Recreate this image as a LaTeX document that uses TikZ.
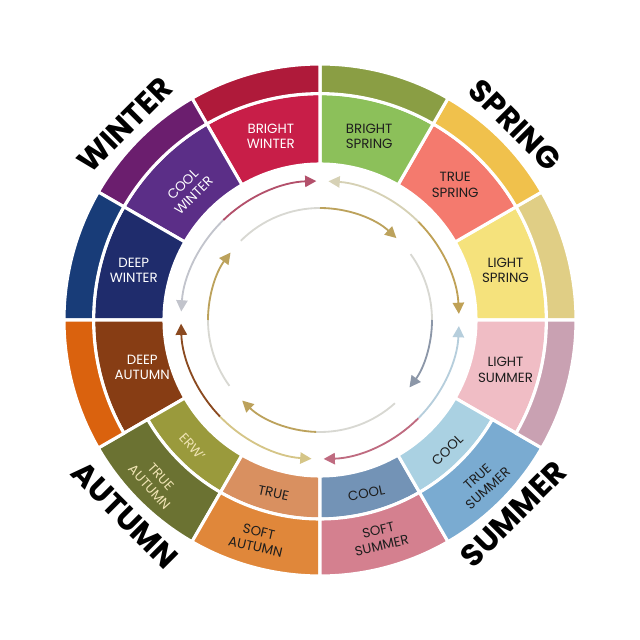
\documentclass[tikz,border=0pt]{standalone}
\usepackage{fontspec}
\setmainfont{Poppins}
\usetikzlibrary{arrows.meta}

% inner band
\definecolor{lspring}{HTML}{F5E27C}
\definecolor{tspring}{HTML}{F47A6E}
\definecolor{bspring}{HTML}{8CC05A}
\definecolor{bwinter}{HTML}{C81E48}
\definecolor{cwinter}{HTML}{5B2E87}
\definecolor{dwinter}{HTML}{1F2C6C}
\definecolor{dautumn}{HTML}{873D14}
\definecolor{lsummer}{HTML}{F0BDC5}
\definecolor{erw}{HTML}{9A9A3C}
\definecolor{trueor}{HTML}{D99060}
\definecolor{cooldk}{HTML}{7393B6}
\definecolor{coollt}{HTML}{AAD1E2}
\definecolor{tautumn}{HTML}{6B7232}
\definecolor{sautumn}{HTML}{E0873A}
\definecolor{ssummer}{HTML}{D4808F}
\definecolor{tsummer}{HTML}{7AABD1}
% outer band
\definecolor{otan}{HTML}{E0CE85}
\definecolor{ogold}{HTML}{F0C14C}
\definecolor{oolive}{HTML}{8A9E44}
\definecolor{ored}{HTML}{AF1A3A}
\definecolor{opurple}{HTML}{6B1E6E}
\definecolor{oblue}{HTML}{183C78}
\definecolor{oorange}{HTML}{DA620E}
\definecolor{omauve}{HTML}{C9A1B2}
% arrows
\definecolor{ared}{HTML}{B3506B}
\definecolor{agray}{HTML}{C2C4CC}
\definecolor{abeige}{HTML}{D6D1B5}
\definecolor{agold}{HTML}{BFA156}
\definecolor{ablue}{HTML}{B6CEDC}
\definecolor{amauve}{HTML}{BF6B80}
\definecolor{abrown}{HTML}{8B4A20}
\definecolor{atan}{HTML}{D5C587}
\definecolor{ilight}{HTML}{D8D8D2}
\definecolor{igold}{HTML}{BCA25C}
\definecolor{islate}{HTML}{8C97A8}
\definecolor{txt}{HTML}{1E1E1E}
\definecolor{cream}{HTML}{F0E4B4}

\begin{document}
\begin{tikzpicture}[>={Triangle[length=8pt, width=8pt]}] %Saisons
	\tikzstyle{part} = [draw=white, line width=2.2pt]
	\tikzstyle{lab} = [align=center, text=txt, inner sep=1pt, font=\fontsize{9.5}{11}\selectfont]
	\tikzstyle{labw} = [lab, text=white]
	\tikzstyle{season} = [text=black, inner sep=0pt, font=\fontsize{22}{22}\selectfont\bfseries]
	\tikzstyle{ring} = [line width=1.3pt]
	\fill[white] (-8,-8) rectangle (8,8);
	\useasboundingbox (-8,-8) rectangle (8,8);
	% anneau
	\foreach \a/\r/\R/\c in {0/3.9/5.66/lspring, 30/3.9/5.66/tspring, 60/3.9/5.66/bspring, 90/3.9/5.66/bwinter,
		120/3.9/5.66/cwinter, 150/3.9/5.66/dwinter, 180/3.9/5.66/dautumn, 330/3.9/5.66/lsummer,
		210/3.9/4.975/erw, 240/3.9/4.975/trueor, 270/3.9/4.975/cooldk, 300/3.9/4.975/coollt,
		210/4.975/6.4/tautumn, 240/4.975/6.4/sautumn, 270/4.975/6.4/ssummer, 300/4.975/6.4/tsummer,
		0/5.66/6.4/otan, 30/5.66/6.4/ogold, 60/5.66/6.4/oolive, 90/5.66/6.4/ored,
		120/5.66/6.4/opurple, 150/5.66/6.4/oblue, 180/5.66/6.4/oorange, 330/5.66/6.4/omauve}
	{
		\filldraw[part, fill=\c] (\a:\r) arc[start angle=\a, end angle=\a+30, radius=\r]
			-- ({\a+30}:\R) arc[start angle=\a+30, end angle=\a, radius=\R] -- cycle;
	}
	% fleches
	\foreach \s/\m/\e/\ca/\cb in {176.5/134/91.5/agray/ared, 86.5/45/2.5/abeige/agold,
		-2.5/-45/-88.5/ablue/amauve, 181.5/224/266.5/abrown/atan}
	{
		\draw[ring, \ca, <-] (\s:3.475) arc[start angle=\s, end angle=\m, radius=3.475];
		\draw[ring, \cb, ->] (\m:3.475) arc[start angle=\m, end angle=\e, radius=3.475];
	}
	\foreach \s/\m/\e/\ca/\cb in {135/90/47/ilight/igold, 216/180/143/ilight/igold,
		36/0/-37/ilight/islate, -48/-92/-134/ilight/igold}
	{
		\draw[ring, \ca] (\s:2.8) arc[start angle=\s, end angle=\m, radius=2.8];
		\draw[ring, \cb, ->] (\m:2.8) arc[start angle=\m, end angle=\e, radius=2.8];
	}
	% textes
	\node[labw] (bw) at (105:4.75) {BRIGHT\\WINTER};
	\node[lab] (bs) at (75:4.75) {BRIGHT\\SPRING};
	\node[lab] (ts) at (45:4.78) {TRUE\\SPRING};
	\node[lab] (ls) at (15:4.8) {LIGHT\\SPRING};
	\node[lab] (lsu) at (-15:4.8) {LIGHT\\SUMMER};
	\node[lab, rotate=44] (cl) at (-45.6:4.55) {COOL};
	\node[lab, rotate=42] (tsu) at (-45:5.75) {TRUE\\SUMMER};
	\node[lab, rotate=12] (cd) at (-75:4.48) {COOL};
	\node[lab, rotate=13] (ssu) at (-74.6:5.65) {SOFT\\SUMMER};
	\node[lab, rotate=-12] (tr) at (255:4.48) {TRUE};
	\node[lab, rotate=-13] (sa) at (254:5.7) {SOFT\\AUTUMN};
	\node[lab, text=cream, rotate=-48] (erwl) at (224.8:4.5) {ERW'};
	\node[lab, text=cream, rotate=-48] (ta) at (224.5:5.78) {TRUE\\AUTUMN};
	\node[labw] (da) at (195:4.6) {DEEP\\AUTUMN};
	\node[labw] (dw) at (165:4.82) {DEEP\\WINTER};
	\node[labw, rotate=45] (cw) at (135.4:4.63) {COOL\\WINTER};
	\node[season, rotate=45] (W) at (135:6.9) {WINTER};
	\node[season, rotate=-45] (S) at (45:6.9) {SPRING};
	\node[season, rotate=45] (Su) at (-45:6.85) {SUMMER};
	\node[season, rotate=-45] (A) at (225:6.9) {AUTUMN};
\end{tikzpicture}
\end{document}
